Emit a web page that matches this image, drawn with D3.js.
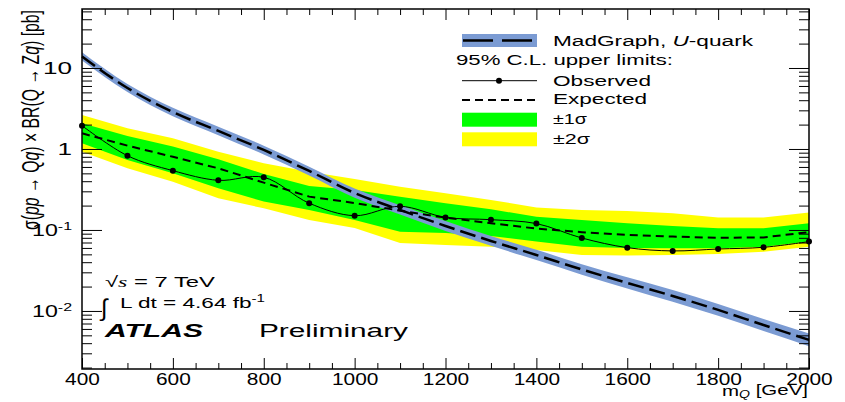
<!DOCTYPE html>
<html><head><meta charset="utf-8">
<script src="https://cdn.jsdelivr.net/npm/d3@7"></script>
<style>
body{margin:0;background:#fff}
svg{display:block}
text{font-family:"Liberation Sans",Arial,Helvetica,sans-serif;fill:#000}
</style></head><body>
<svg id="c" width="845" height="402"></svg>
<script>
// ---- data ----
const masses   = [400,500,600,700,800,900,1000,1100,1200,1300,1400,1500,1600,1700,1800,1900,2000];
const observed = [1.94,0.826,0.54,0.41,0.447,0.214,0.150,0.196,0.143,0.134,0.120,0.0796,0.0605,0.0551,0.0582,0.0611,0.0718];
const expected = [1.56,1.10,0.80,0.577,0.384,0.258,0.215,0.173,0.142,0.121,0.104,0.094,0.087,0.083,0.080,0.081,0.094];
const expUp1   = [2.08,1.45,1.07,0.746,0.491,0.349,0.312,0.258,0.214,0.180,0.146,0.133,0.121,0.112,0.105,0.105,0.121];
const expDn1   = [1.18,0.731,0.501,0.327,0.224,0.177,0.133,0.0953,0.0918,0.0843,0.0718,0.0622,0.0600,0.0594,0.0594,0.0622,0.0718];
const expUp2   = [2.63,1.80,1.36,0.926,0.666,0.525,0.426,0.342,0.284,0.235,0.190,0.177,0.172,0.161,0.143,0.143,0.164];
const expDn2   = [0.926,0.578,0.395,0.246,0.185,0.133,0.106,0.0691,0.0653,0.0622,0.0566,0.0491,0.0484,0.0491,0.0506,0.0540,0.0622];
const theory     = [13.9,5.66,2.86,1.67,0.972,0.535,0.286,0.177,0.112,0.0732,0.0491,0.0325,0.0222,0.0153,0.0103,0.00671,0.00439];
const theoryUp   = [15.6,6.34,3.22,1.88,1.10,0.605,0.326,0.202,0.129,0.0842,0.0570,0.0377,0.0260,0.0181,0.0122,0.00798,0.00527];
const theoryDown = [12.4,5.04,2.53,1.48,0.855,0.471,0.250,0.155,0.0974,0.0637,0.0425,0.0280,0.0190,0.0130,0.00870,0.00564,0.00367];
const xTicks      = [400,600,800,1000,1200,1400,1600,1800,2000];
const xTickLabels = ["400","600","800","1000","1200","1400","1600","1800","2000"];
const yTicks      = [0.01,0.1,1,10];
const yTickBase   = ["10","10","1","10"];
const yTickSup    = ["-2","-1","",""];

// ---- setup ----
const svg = d3.select("#c");
const L=82, R=809, T=9, B=369;
const x = d3.scaleLinear().domain([400,2000]).range([L,R]);
const y = d3.scaleLog().domain([0.00192,53.5]).range([B,T]);
const FONT = '"Liberation Sans",Arial,Helvetica,sans-serif';

// ---- bands ----
const idx = masses.map((m,i)=>i);
const band = (lo,hi)=>d3.area().x(i=>x(masses[i])).y0(i=>y(lo[i])).y1(i=>y(hi[i]));
svg.append("path").attr("d",band(expDn2,expUp2)(idx)).attr("fill","#ffff00");
svg.append("path").attr("d",band(expDn1,expUp1)(idx)).attr("fill","#00ff00");

// theory band + line
svg.append("path").attr("d",band(theoryDown,theoryUp).curve(d3.curveMonotoneX)(idx)).attr("fill","#7b9bd3");
svg.append("path").attr("d",d3.line().x(i=>x(masses[i])).y(i=>y(theory[i])).curve(d3.curveMonotoneX)(idx))
  .attr("fill","none").attr("stroke","#000").attr("stroke-width",2.5).attr("stroke-dasharray","16,6");

// expected
svg.append("path").attr("d",d3.line().x(i=>x(masses[i])).y(i=>y(expected[i]))(idx))
  .attr("fill","none").attr("stroke","#000").attr("stroke-width",2).attr("stroke-dasharray","8,5");

// observed
svg.append("path").attr("d",d3.line().x(i=>x(masses[i])).y(i=>y(observed[i])).curve(d3.curveCatmullRom)(idx))
  .attr("fill","none").attr("stroke","#000").attr("stroke-width",1);
svg.append("g").selectAll("circle").data(idx).join("circle")
  .attr("cx",i=>x(masses[i])).attr("cy",i=>y(observed[i])).attr("r",3).attr("fill","#000");

// ---- axes ----
function styleAxis(g){ g.select(".domain").remove(); g.selectAll(".tick line").attr("stroke","#000").attr("stroke-width",1); }
const xMinor = d3.range(450,2000,50).filter(v=>v%200!==0);
const yMinor = [];
[0.001,0.01,0.1,1,10].forEach(d=>{for(let k=2;k<=9;k++){const v=d*k; if(v>=0.00192&&v<=53.5) yMinor.push(v);}});

const gxB = svg.append("g").attr("transform",`translate(0,${B})`)
  .call(d3.axisBottom(x).tickValues(xTicks).tickFormat((d,i)=>xTickLabels[i]).tickSizeInner(-11).tickSizeOuter(0).tickPadding(4.5));
styleAxis(gxB);
gxB.selectAll("text").attr("font-family",FONT).attr("font-size",16)
  .attr("textLength",function(){return this.textContent.length*11.6;}).attr("lengthAdjust","spacingAndGlyphs");
styleAxis(svg.append("g").attr("transform",`translate(0,${B})`).call(d3.axisBottom(x).tickValues(xMinor).tickFormat("").tickSizeInner(-6).tickSizeOuter(0)));
styleAxis(svg.append("g").attr("transform",`translate(0,${T})`).call(d3.axisTop(x).tickValues(xTicks).tickFormat("").tickSizeInner(-11).tickSizeOuter(0)));
styleAxis(svg.append("g").attr("transform",`translate(0,${T})`).call(d3.axisTop(x).tickValues(xMinor).tickFormat("").tickSizeInner(-6).tickSizeOuter(0)));

const gyL = svg.append("g").attr("transform",`translate(${L},0)`)
  .call(d3.axisLeft(y).tickValues(yTicks).tickFormat("").tickSizeInner(-20).tickSizeOuter(0).tickPadding(10));
styleAxis(gyL);
gyL.selectAll(".tick text").each(function(d,i){
  const t=d3.select(this).attr("font-family",FONT).attr("font-size",16).attr("lengthAdjust","spacingAndGlyphs");
  t.text("");
  t.append("tspan").text(yTickBase[i]);
  if(yTickSup[i]){ t.append("tspan").attr("font-size",11).attr("dy","-0.55em").text(yTickSup[i]); }
  const w = yTickSup[i] ? 40 : yTickBase[i].length*14.5;
  t.attr("textLength",w);
});
styleAxis(svg.append("g").attr("transform",`translate(${L},0)`).call(d3.axisLeft(y).tickValues(yMinor).tickFormat("").tickSizeInner(-10).tickSizeOuter(0)));
styleAxis(svg.append("g").attr("transform",`translate(${R},0)`).call(d3.axisRight(y).tickValues(yTicks).tickFormat("").tickSizeInner(-20).tickSizeOuter(0)));
styleAxis(svg.append("g").attr("transform",`translate(${R},0)`).call(d3.axisRight(y).tickValues(yMinor).tickFormat("").tickSizeInner(-10).tickSizeOuter(0)));

// frame
svg.append("rect").attr("x",L).attr("y",T).attr("width",R-L).attr("height",B-T)
  .attr("fill","none").attr("stroke","#000").attr("stroke-width",1.5);

// ---- text helper ----
function txt(px,py,parts,opt){
  opt=opt||{};
  const t=svg.append("text").attr("x",px).attr("y",py).attr("font-size",opt.size||15.5)
    .attr("text-anchor",opt.anchor||"start");
  if(opt.weight) t.attr("font-weight",opt.weight);
  if(opt.style) t.attr("font-style",opt.style);
  parts.forEach(p=>{
    const s=t.append("tspan").text(p.t);
    if(p.i) s.attr("font-style","italic");
    if(p.dy) s.attr("dy",p.dy);
    if(p.fs) s.attr("font-size",p.fs);
    if(p.ff) s.attr("font-family",p.ff);
  });
  if(opt.w) t.attr("textLength",opt.w).attr("lengthAdjust","spacingAndGlyphs");
  return t;
}

// axis titles
txt(808,396,[{t:"m"},{t:"Q",i:true,fs:10,dy:"0.2em"},{t:" [GeV]",dy:"-0.2em"}],{anchor:"end",w:86,size:14.5});
svg.append("g").attr("transform","translate(39,10) scale(1.4,1) rotate(-90)")
  .append("text").attr("text-anchor","end").attr("font-size",17)
  .attr("textLength",220).attr("lengthAdjust","spacingAndGlyphs")
  .call(t=>{
    [["σ("],["pp",1],[" → Q"],["q",1],[") × BR(Q → Z"],["q",1],[")  [pb]"]].forEach(p=>{
      const s=t.append("tspan").text(p[0]); if(p[1]) s.attr("font-style","italic");
    });
  });

// ---- legend ----
svg.append("rect").attr("x",462).attr("y",34).attr("width",75).attr("height",13).attr("fill","#7b9bd3");
svg.append("line").attr("x1",463).attr("x2",536).attr("y1",40.5).attr("y2",40.5)
  .attr("stroke","#000").attr("stroke-width",2.5).attr("stroke-dasharray","30,9");
txt(553,46,[{t:"MadGraph, "},{t:"U",i:true},{t:"-quark"}],{w:200});
txt(456,65,[{t:"95% C.L. upper limits:"}],{w:217});
svg.append("line").attr("x1",462).attr("x2",537).attr("y1",80.7).attr("y2",80.7).attr("stroke","#000").attr("stroke-width",1);
svg.append("circle").attr("cx",499).attr("cy",80.7).attr("r",3).attr("fill","#000");
txt(553,85.5,[{t:"Observed"}],{w:98});
svg.append("line").attr("x1",462).attr("x2",537).attr("y1",100).attr("y2",100)
  .attr("stroke","#000").attr("stroke-width",2).attr("stroke-dasharray","8,5");
txt(553,104,[{t:"Expected"}],{w:94});
svg.append("rect").attr("x",462).attr("y",112.7).attr("width",75).attr("height",14).attr("fill","#00ff00");
txt(553,124,[{t:"±1σ"}],{w:34});
svg.append("rect").attr("x",462).attr("y",132.3).attr("width",75).attr("height",14).attr("fill","#ffff00");
txt(553,144,[{t:"±2σ"}],{w:37});

// ---- annotations ----
txt(105,287,[{t:"√"},{t:"s",i:true,ff:"Liberation Serif,serif"},{t:" = 7 TeV"}],{w:110,size:15});
txt(101,316,[{t:"∫"}],{size:24});
txt(120,308,[{t:"L dt = 4.64 fb"},{t:"-1",fs:10,dy:"-0.6em"}],{w:145,size:15});
txt(105,337,[{t:"ATLAS"}],{w:98,size:18,weight:"bold",style:"italic"});
txt(259,337,[{t:"Preliminary"}],{w:149,size:18});
</script>
</body></html>
